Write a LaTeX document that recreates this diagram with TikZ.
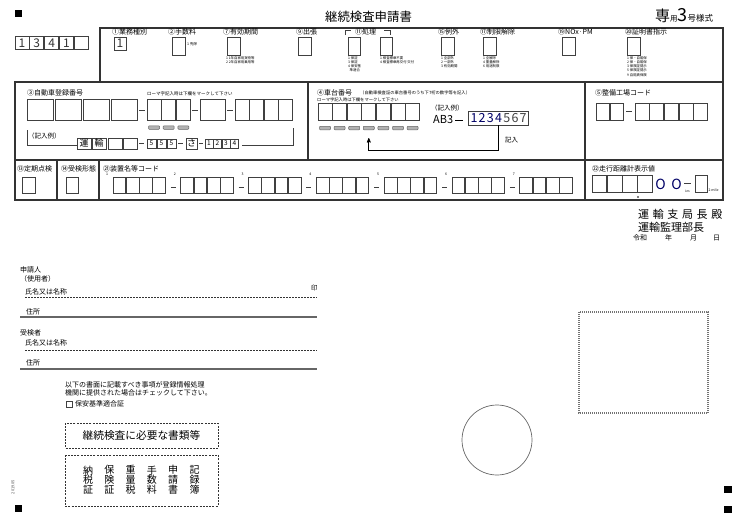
\documentclass[tikz,border=0pt]{standalone}
\usepackage{fontspec}
\setmainfont{Noto Sans CJK JP}
\usetikzlibrary{arrows,positioning}
\newcommand{\fsz}[1]{\fontsize{#1}{#1}\selectfont}

\begin{document}
\begin{tikzpicture}[x=1pt,y=-1pt,>=stealth',inner sep=0pt,
                    line join=miter]
  \tikzstyle{formframe}=[draw=black!80,line width=1.1pt]
  \tikzstyle{cellbox}=[draw=black!75,line width=0.9pt]
  \tikzstyle{lbl}=[anchor=west,font=\fsz{7}]
  \tikzstyle{tinytext}=[anchor=north west,align=left,font=\fontsize{3.4}{4.3}\selectfont]
  \tikzstyle{greybar}=[draw=black!60,fill=black!30,line width=0.5pt,
                       rounded corners=0.8pt,minimum width=11pt,minimum height=3.5pt]
  \tikzstyle{entry}=[font=\fsz{12},text=black!80]
  \tikzstyle{squaremark}=[fill=black]

  \useasboundingbox (0,0) rectangle (740,522);

  \fill[squaremark] (15,10) rectangle (22,17);
  \fill[squaremark] (15,505) rectangle (22,512);
  \fill[squaremark] (724,486) rectangle (732,493);
  \fill[squaremark] (724,506) rectangle (732,513);

  \node[font=\fsz{12.4}] (title) at (368.5,17) {継続検査申請書};
  \node[anchor=west] (form) at (655,16)
       {\fsz{15}専\fsz{7.5}用\fsz{18}3\fsz{8.5}号様式};

  \foreach \i in {0,...,4}
    \draw[cellbox] (15+14.8*\i,36.5) rectangle ++(14,12.5);
  \foreach \d [count=\i from 0] in {1,3,4,1}
    \node[entry] (code\i) at (22+14.8*\i,42.8) {\d};

  \draw[formframe] (100,82) -- (100,28) -- (723,28) -- (723,82);
  \draw[formframe] (15,82) rectangle (723,160);
  \draw[formframe] (15,160) rectangle (723,200);
  \draw[formframe] (308,82) -- (308,160) (585,82) -- (585,200)
                   (57,160) -- (57,200) (99,160) -- (99,200);

  % header items
  \node[lbl] (gyomu) at (112,32) {①業務種別};
  \draw[cellbox] (114,37) rectangle (126,50);
  \node[entry] (gyomuval) at (120,43.5) {1};
  \foreach \lx/\bx/\txt [count=\k] in {168/172/②手数料, 223/227/⑦有効期間,
        296/298/⑨出張, 438/441/⑮例外, 480/483/⑰制限解除,
        558/562/⑲NOx·PM, 625/627/⑳証明書指示} {
    \node[lbl] (item\k) at (\lx,32) {\txt};
    \draw[cellbox] (\bx,37) rectangle ++(13,18);
  }
  \node[lbl] (shori) at (355,32) {⑪処理};
  \draw[cellbox] (345,35) -- (345,30) -- (351,30) (384,30) -- (390,30) -- (390,35);
  \draw[cellbox] (348,37) rectangle ++(12.5,18);
  \draw[cellbox] (380,37) rectangle ++(12.5,18);

  \node[lbl,font=\fsz{3.6}] (feenote) at (187,44) {1 免除};
  \node[tinytext] (kikannote) at (226,56) {1 1年自家用貨物等\\2 2年自家用乗用等};
  \node[tinytext] (shorinote1) at (348,56) {1 保証\\3 保証\\4 保安基\\\ \ 準適合};
  \node[tinytext] (shorinote2) at (380,56) {1 検査標章不要\\4 検査標章再交付 交付};
  \node[tinytext] (reigainote) at (441,56) {1 全部外\\2 一部外\\3 有効期間};
  \node[tinytext] (seigennote) at (483,56) {1 全解除\\4 重量解除\\6 用途制限};
  \node[tinytext] (shomeinote) at (627,56)
       {1 保・自賠保\\2 保・自賠保\\3 保険証提示\\5 保険証提示\\9 自賠責保険};

  % registration number
  \node[lbl] (reg) at (27,93) {③自動車登録番号};
  \node[lbl,font=\fsz{4.5}] (regnote) at (147,94) {ローマ字記入時は下欄をマークして下さい};
  \foreach \i in {0,...,3}
    \draw[cellbox] (27+28*\i,99) rectangle ++(26,21);
  \draw[cellbox] (139,110) -- (145,110);
  \foreach \i in {0,1,2} {
    \draw[cellbox] (147+14.7*\i,99) rectangle ++(14,21);
    \node[greybar] (rbar\i) at (154+14.7*\i,127.5) {};
  }
  \draw[cellbox] (192,110) -- (198,110);
  \draw[cellbox] (200,99) rectangle (225,120);
  \draw[cellbox] (227,110) -- (233,110);
  \foreach \i in {0,...,3}
    \draw[cellbox] (235+14.6*\i,99) rectangle ++(14,21);

  \draw[cellbox,line width=0.7pt] (27,130) -- (27,145) -- (77,145)
        (242,145) -- (293,145) -- (293,128);
  \node[lbl,font=\fsz{6.5}] (regex) at (28,136) {（記入例）};
  \foreach \x in {77,92,108,123}
    \draw[cellbox] (\x,138) rectangle ++(14,11);
  \node[font=\fsz{9}] (un) at (84,143.5) {運};
  \node[font=\fsz{9}] (yu) at (99,143.5) {輸};
  \draw[cellbox] (139,143.5) -- (144,143.5);
  \foreach \i in {0,1,2} {
    \draw[cellbox] (147+10*\i,139) rectangle ++(9,9);
    \node[font=\fsz{6.5}] (five\i) at (151.5+10*\i,143.5) {5};
  }
  \draw[cellbox] (178,143.5) -- (183,143.5);
  \draw[cellbox] (186,138) rectangle (197,149);
  \node[font=\fsz{9}] (sa) at (191.5,143.5) {さ};
  \draw[cellbox] (199,143.5) -- (203,143.5);
  \foreach \d [count=\i from 0] in {1,2,3,4} {
    \draw[cellbox] (205+8.5*\i,139) rectangle ++(8,9);
    \node[font=\fsz{6.5}] (num\i) at (209+8.5*\i,143.5) {\d};
  }

  % chassis number
  \node[lbl] (chassis) at (317,93) {④車台番号};
  \node[lbl,font=\fsz{4.3}] (chnote) at (360,93) {（自動車検査証の車台番号のうち下7桁の数字等を記入）};
  \node[lbl,font=\fsz{4.3}] (chnote2) at (317,100) {ローマ字記入時は下欄をマークして下さい};
  \foreach \i in {1,...,7} {
    \draw[cellbox] (303.4+14.6*\i,103) rectangle ++(14,17);
    \node[greybar] (vbar\i) at (310.4+14.6*\i,128) {};
  }
  \node[lbl,font=\fsz{6.5}] (chex) at (431,108) {（記入例）};
  \node[lbl,font=\fsz{11}] (ab3) at (433,120) {AB3};
  \draw[line width=1pt] (ab3.east) ++(2,0) -- ++(8,0);
  \node[draw=black!75,line width=0.9pt,minimum width=60pt,minimum height=14pt]
       (exbox) at (498,118) {};
  \foreach \d [count=\i from 0] in {1,2,3,4}
    \node[font=\fsz{12.5},text=blue!40!black] (exd\i) at (474+8.2*\i,118) {\d};
  \foreach \d [count=\i from 4] in {5,6,7}
    \node[font=\fsz{12.5},text=black!75] (exd\i) at (474+8.2*\i,118) {\d};
  \draw[line width=0.7pt,->] (exbox.south) -- ++(0,25) -| ([yshift=-8pt]vbar4.south);
  \node[lbl,font=\fsz{6.5}] (kinyu) at (505,140) {記入};

  % factory code
  \node[lbl] (shop) at (595,93) {⑤整備工場コード};
  \foreach \i in {0,1}
    \draw[cellbox] (596+14*\i,103) rectangle ++(13.5,17);
  \draw[cellbox] (626,111.5) -- (632,111.5);
  \foreach \i in {0,...,4}
    \draw[cellbox] (635+14.7*\i,103) rectangle ++(14,17);

  % third row
  \node[lbl] (teiki) at (17,169) {⑬定期点検};
  \draw[cellbox] (22,177) rectangle (35,193);
  \node[lbl] (keitai) at (61,169) {⑭受検形態};
  \draw[cellbox] (66,177) rectangle (78,193);
  \node[lbl] (souchi) at (103,169) {㉑装置名等コード};
  \foreach \g in {1,...,7} {
    \pgfmathsetmacro\gx{113+67.8*(\g-1)}
    \node[font=\fsz{3.5}] (sup\g) at (\gx-6,174) {\g};
    \foreach \i in {0,...,3}
      \draw[cellbox] (\gx+13.25*\i,177) rectangle ++(12.75,16);
  }
  \foreach \g in {2,...,7}
    \draw[cellbox] (45.2+67.8*\g-10,187) -- ++(5,0);

  \node[lbl] (odo) at (592,169) {㉒走行距離計表示値};
  \foreach \i in {0,...,3}
    \draw[cellbox] (592+15.3*\i,175) rectangle ++(14.8,17);
  \fill (637.9,197) circle (0.9);
  \node[font=\fsz{14},text=blue!40!black] (zero1) at (660.5,184) {O};
  \node[font=\fsz{14},text=blue!40!black] (zero2) at (676.5,184) {O};
  \draw[cellbox] (684,183) -- (691,183);
  \node[font=\fsz{3}] (km) at (687.5,191) {km};
  \draw[cellbox] (695,175) rectangle (707,192);
  \node[anchor=west,font=\fsz{3.5}] (mile) at (708.5,190) {2 mile};

  % addressee
  \node[anchor=west,font=\fsz{11}\addfontfeature{LetterSpace=33}] (kyokucho) at (638,214) {運輸支局長殿};
  \node[anchor=west,font=\fsz{11}] (kanribu) at (638,227) {運輸監理部長};
  \node[lbl] (reiwa) at (633,238) {令和};
  \node[lbl] (nen) at (665,238) {年};
  \node[lbl] (tsuki) at (690,238) {月};
  \node[lbl] (hi) at (713,238) {日};

  % applicant
  \node[lbl] (shinsei) at (20,270) {申請人};
  \node[lbl] (shiyou) at (20,279) {（使用者）};
  \node[lbl] (name1) at (25,292) {氏名又は名称};
  \node[lbl,font=\fsz{6.5}] (in) at (311,288) {印};
  \draw[black!80,line width=0.8pt,dash pattern=on 2pt off 1pt] (25,297) -- (317,297);
  \node[lbl] (addr1) at (26,312) {住所};
  \draw[black!60,line width=1.5pt] (20,317) -- (317,317);
  \node[lbl] (juken) at (20,333) {受検者};
  \node[lbl] (name2) at (25,343) {氏名又は名称};
  \draw[black!80,line width=0.8pt,dash pattern=on 2pt off 1pt] (25,350) -- (317,350);
  \node[lbl] (addr2) at (26,363) {住所};
  \draw[black!60,line width=1.5pt] (20,369) -- (317,369);

  \node[anchor=north west,align=left,font=\fontsize{7}{8}\selectfont] (notice) at (65,381)
       {以下の書面に記載すべき事項が登録情報処理\\機関に提供された場合はチェックして下さい。};
  \draw[cellbox] (66,401) rectangle (72,407);
  \node[lbl] (hoan) at (75,404) {保安基準適合証};

  \draw[black!80,line width=0.9pt,dash pattern=on 2pt off 1.2pt] (65,423) rectangle (218,448);
  \node[font=\fsz{10.7}] (docs) at (141.5,435.5) {継続検査に必要な書類等};
  \draw[black!80,line width=0.9pt,dash pattern=on 2pt off 1.2pt] (65,455) rectangle (218,506);
  \foreach \t [count=\i from 0] in {納\\税\\証, 保\\険\\証, 重\\量\\税,
                                    手\\数\\料, 申\\請\\書, 記\\録\\簿}
    \node[align=center,font=\fontsize{10}{9.8}\selectfont] (doc\i) at (88+21.3*\i,480) {\t};

  \node[rotate=90,font=\fsz{4},text=black!70] (ver) at (13,487) {2019.05};

  \draw[black!55,line width=1.2pt,dash pattern=on 1pt off 1pt] (579,312) rectangle (708,413);
  \draw[black!60,line width=0.7pt] (497,440) circle (35);
\end{tikzpicture}
\end{document}
